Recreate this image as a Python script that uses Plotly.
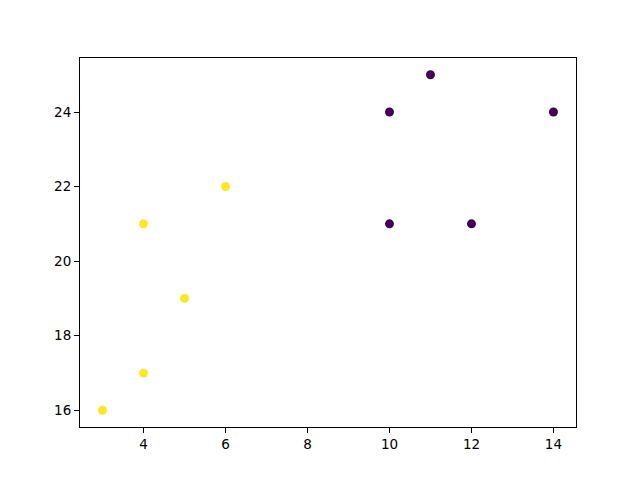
import plotly.graph_objects as go

# cluster 0 (purple) and cluster 1 (yellow)
x_purple = [10, 10, 11, 12, 14]
y_purple = [21, 24, 25, 21, 24]
x_yellow = [3, 4, 5, 4, 6]
y_yellow = [16, 17, 19, 21, 22]
x_ticks = [4, 6, 8, 10, 12, 14]
y_ticks = [16, 18, 20, 22, 24]

fig = go.Figure()
fig.add_trace(go.Scatter(x=x_purple, y=y_purple, mode="markers",
                         marker=dict(color="#440154", size=9, line=dict(width=0))))
fig.add_trace(go.Scatter(x=x_yellow, y=y_yellow, mode="markers",
                         marker=dict(color="#fde725", size=9, line=dict(width=0))))

axis_common = dict(showgrid=False, zeroline=False, showline=True, linecolor="black",
                   linewidth=1, mirror=True, ticks="outside", ticklen=5, tickwidth=1,
                   tickcolor="black", tickfont=dict(family="DejaVu Sans", size=13.5, color="black"))

fig.update_layout(
    width=640, height=480,
    margin=dict(l=72, r=72, t=50, b=61),
    paper_bgcolor="white", plot_bgcolor="white",
    showlegend=False,
    xaxis=dict(range=[2.45, 14.55], tickvals=x_ticks, **axis_common),
    yaxis=dict(range=[15.55, 25.45], tickvals=y_ticks, **axis_common),
)
fig.write_html("out.html")
